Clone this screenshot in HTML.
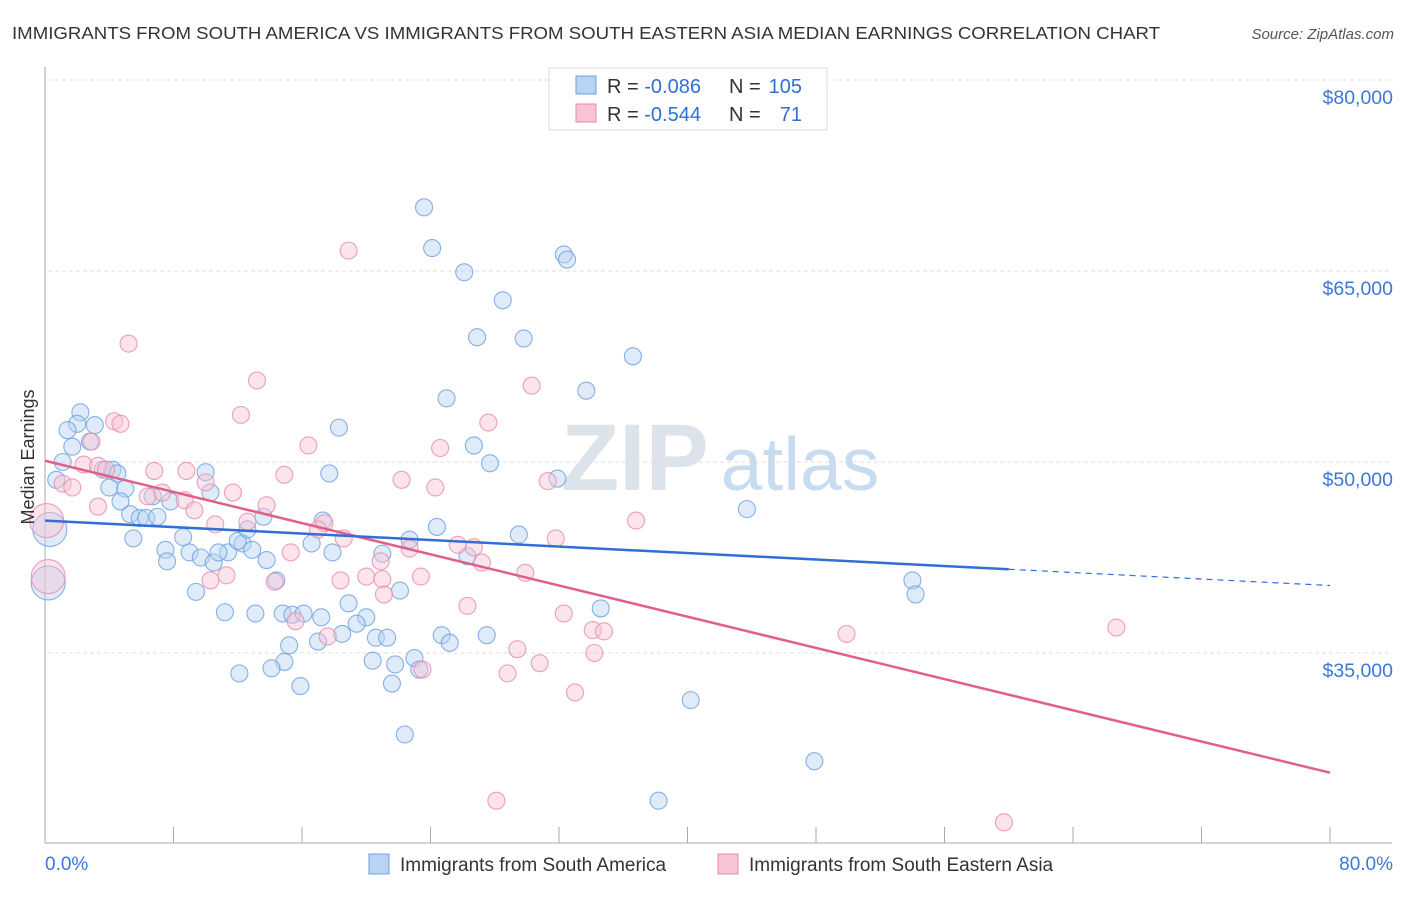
<!DOCTYPE html>
<html><head><meta charset="utf-8"><style>
body{margin:0;background:#fff;font-family:"Liberation Sans",sans-serif;}
svg text{font-family:"Liberation Sans",sans-serif;}
</style></head><body>
<svg id="chart" width="1406" height="892" viewBox="0 0 1406 892">
<text x="12" y="39" font-size="17.5" fill="#333" textLength="1148" lengthAdjust="spacingAndGlyphs">IMMIGRANTS FROM SOUTH AMERICA VS IMMIGRANTS FROM SOUTH EASTERN ASIA MEDIAN EARNINGS CORRELATION CHART</text>
<text x="1394" y="39" font-size="15" fill="#555" font-style="italic" text-anchor="end">Source: ZipAtlas.com</text>
<g id="grid"></g>
<g><text x="635" y="490" font-size="95" fill="#dde3ea" font-family="Liberation Serif" text-anchor="middle" font-weight="bold">ZIP</text><text x="800" y="490" font-size="75" fill="#c9dcef" text-anchor="middle">atlas</text></g>
<g id="axes"></g>
<g id="pts"></g>
<g id="trends"></g>
<text x="34" y="457" font-size="18" fill="#333" text-anchor="middle" transform="rotate(-90 34 457)">Median Earnings</text>
<g>
<rect x="549" y="68" width="278" height="62" fill="#fff" stroke="#ddd"/>
<rect x="576" y="76" width="20" height="18" fill="#b9d3f2" stroke="#6a9fe0"/>
<rect x="576" y="104" width="20" height="18" fill="#f8c4d4" stroke="#ea8aa8"/>
<g font-size="20" fill="#333">
<text x="607" y="93">R = <tspan fill="#2f6fd6">-0.086</tspan></text>
<text x="729" y="93">N =</text>
<text x="802" y="93" fill="#2f6fd6" text-anchor="end">105</text>
<text x="607" y="121">R = <tspan fill="#2f6fd6">-0.544</tspan></text>
<text x="729" y="121">N =</text>
<text x="802" y="121" fill="#2f6fd6" text-anchor="end">71</text>
</g>
</g>
<g>
<rect x="369" y="854" width="20" height="20" fill="#b9d3f2" stroke="#6a9fe0"/>
<text x="400" y="871" font-size="19" fill="#333">Immigrants from South America</text>
<rect x="718" y="854" width="20" height="20" fill="#f8c4d4" stroke="#ea8aa8"/>
<text x="749" y="871" font-size="19" fill="#333">Immigrants from South Eastern Asia</text>
</g>
</svg>
<script>
const yTicks=[80000,65000,50000,35000];
const yTickLabels=["$80,000","$65,000","$50,000","$35,000"];
const xTicks=[0,8,16,24,32,40,48,56,64,72,80];
const xEndLabels=["0.0%","80.0%"];
const blueX=[23.6,24.1,26.1,28.5,32.3,32.5,26.9,29.8,36.6,33.7,25.0,18.3,26.7,27.7,17.7,31.9,43.7,2.2,2.0,3.1,1.4,2.8,1.7,1.1,0.7,3.6,4.2,4.5,4.0,5.0,4.7,6.7,5.3,5.9,6.3,7.0,7.8,10.3,10.0,13.6,17.3,5.5,8.6,7.5,9.0,9.7,10.5,11.4,10.8,12.3,12.0,12.6,12.9,7.6,9.4,11.2,13.8,14.4,16.6,17.9,21.0,22.7,24.4,26.3,29.5,22.1,18.9,14.8,13.1,15.4,16.1,17.2,20.0,19.4,18.5,17.0,15.2,20.6,21.3,24.7,25.2,27.5,34.6,54.0,54.2,20.4,23.0,21.8,14.9,14.1,12.1,15.9,21.6,23.3,22.4,40.2,47.9,38.2,0.3,0.2];
const blueY=[70.0,66.8,64.9,62.7,66.3,65.9,59.8,59.7,58.3,55.6,55.0,52.7,51.3,49.9,49.1,48.7,46.3,53.9,53.0,52.9,52.5,51.6,51.2,50.0,48.6,49.4,49.4,49.1,48.0,47.9,46.9,47.3,45.9,45.6,45.6,45.7,46.9,47.6,49.2,45.7,45.4,44.0,44.1,43.1,42.9,42.5,42.1,42.9,42.9,43.6,43.8,44.7,43.1,42.2,39.8,38.2,42.3,40.7,43.6,42.9,42.8,43.9,44.9,42.6,44.3,39.9,38.9,38.1,38.1,38.0,38.1,37.8,37.8,37.3,36.5,35.9,35.6,36.2,36.2,36.4,35.8,36.4,38.5,40.7,39.6,34.4,34.6,34.1,34.3,33.8,33.4,32.4,32.6,33.7,28.6,31.3,26.5,23.4,44.7,40.5];
const pinkX=[18.9,5.2,13.2,30.3,12.2,4.3,4.7,16.4,24.6,27.6,2.9,2.4,3.3,3.8,6.8,8.8,14.9,22.2,24.3,31.3,1.1,1.7,3.3,6.4,8.7,7.3,10.0,11.7,9.3,13.8,10.6,12.6,17.4,17.0,18.6,22.7,25.7,26.7,27.2,31.8,36.8,15.3,20.9,18.4,20.0,21.0,23.4,29.9,11.3,10.3,14.3,21.1,26.3,32.3,34.1,34.8,49.9,66.7,15.6,17.6,23.5,29.4,30.8,34.2,28.8,33.0,28.1,59.7,0.1,0.2];
const pinkY=[66.6,59.3,56.4,56.0,53.7,53.2,53.0,51.3,51.1,53.1,51.6,49.8,49.7,49.4,49.3,49.3,49.0,48.6,48.0,48.5,48.3,48.0,46.5,47.3,47.0,47.6,48.4,47.6,46.2,46.6,45.1,45.3,45.2,44.7,44.0,43.2,43.5,43.3,42.1,44.0,45.4,42.9,42.2,40.7,41.0,40.8,41.0,41.3,41.1,40.7,40.6,39.6,38.7,38.1,36.8,36.7,36.5,37.0,37.5,36.3,33.7,35.3,34.2,35.0,33.4,31.9,23.4,21.7,45.4,41.0];
const blueTrend=[45.4,40.3];
const blueSolidEnd=60;
const pinkTrend=[50.1,25.6];

const NS="http://www.w3.org/2000/svg";
const X=p=>45+p*(1330-45)/80;
const Y=v=>80+(80-v)*191/15;
function mk(tag,attrs,parent){const e=document.createElementNS(NS,tag);for(const k in attrs)e.setAttribute(k,attrs[k]);parent.appendChild(e);return e;}
const grid=document.getElementById('grid'),axes=document.getElementById('axes'),pts=document.getElementById('pts'),tr=document.getElementById('trends');
yTicks.forEach((t,i)=>{
 const l=mk('line',{x1:48,x2:1392,y1:Y(t/1000),y2:Y(t/1000),stroke:'#dadde2','stroke-dasharray':'4 3'},grid);
 
 
 const tx=mk('text',{x:1393,y:Y(t/1000)+24,'font-size':19.5,fill:'#3b78d8','text-anchor':'end'},axes);
 tx.textContent=yTickLabels[i];
 
 
});
const ax=mk('line',{x1:45,x2:45,y1:67,y2:843,stroke:'#aaa'},axes);


const bx=mk('line',{x1:45,x2:1392,y1:843,y2:843,stroke:'#aaa'},axes);


xTicks.forEach(t=>{const l=mk('line',{x1:X(t),x2:X(t),y1:827,y2:843,stroke:'#aaa'},axes);
 
 });
const xl0=mk('text',{x:45,y:870,'font-size':19,fill:'#3b78d8'},axes);xl0.textContent=xEndLabels[0];


const xl1=mk('text',{x:1393,y:870,'font-size':19,fill:'#3b78d8','text-anchor':'end'},axes);xl1.textContent=xEndLabels[1];


function dots(xs,ys,fill,stroke,name){
 xs.forEach((x,i)=>{const r=(i>=xs.length-2)?17:8.5;
  const c=mk('circle',{cx:X(x),cy:Y(ys[i]),r:r,fill:fill,'fill-opacity':0.45,stroke:stroke,'stroke-opacity':0.8,'stroke-width':1.1},pts);
  
  });
}
dots(blueX,blueY,'#b9d3f2','#6a9fe0','point-south-america');
dots(pinkX,pinkY,'#f8c4d4','#ea8aa8','point-se-asia');
const bv=x=>blueTrend[0]+(blueTrend[1]-blueTrend[0])*x/80;
const pv=x=>pinkTrend[0]+(pinkTrend[1]-pinkTrend[0])*x/80;
const l1=mk('line',{x1:X(0),y1:Y(pv(0)),x2:X(80),y2:Y(pv(80)),stroke:'#e0608a','stroke-width':2.5},tr);


const l2=mk('line',{x1:X(0),y1:Y(bv(0)),x2:X(blueSolidEnd),y2:Y(bv(blueSolidEnd)),stroke:'#2f6fd6','stroke-width':2.5},tr);


const l3=mk('line',{x1:X(blueSolidEnd),y1:Y(bv(blueSolidEnd)),x2:X(80),y2:Y(bv(80)),stroke:'#2f6fd6','stroke-width':1.2,'stroke-dasharray':'6 5'},tr);


</script>
</body></html>
